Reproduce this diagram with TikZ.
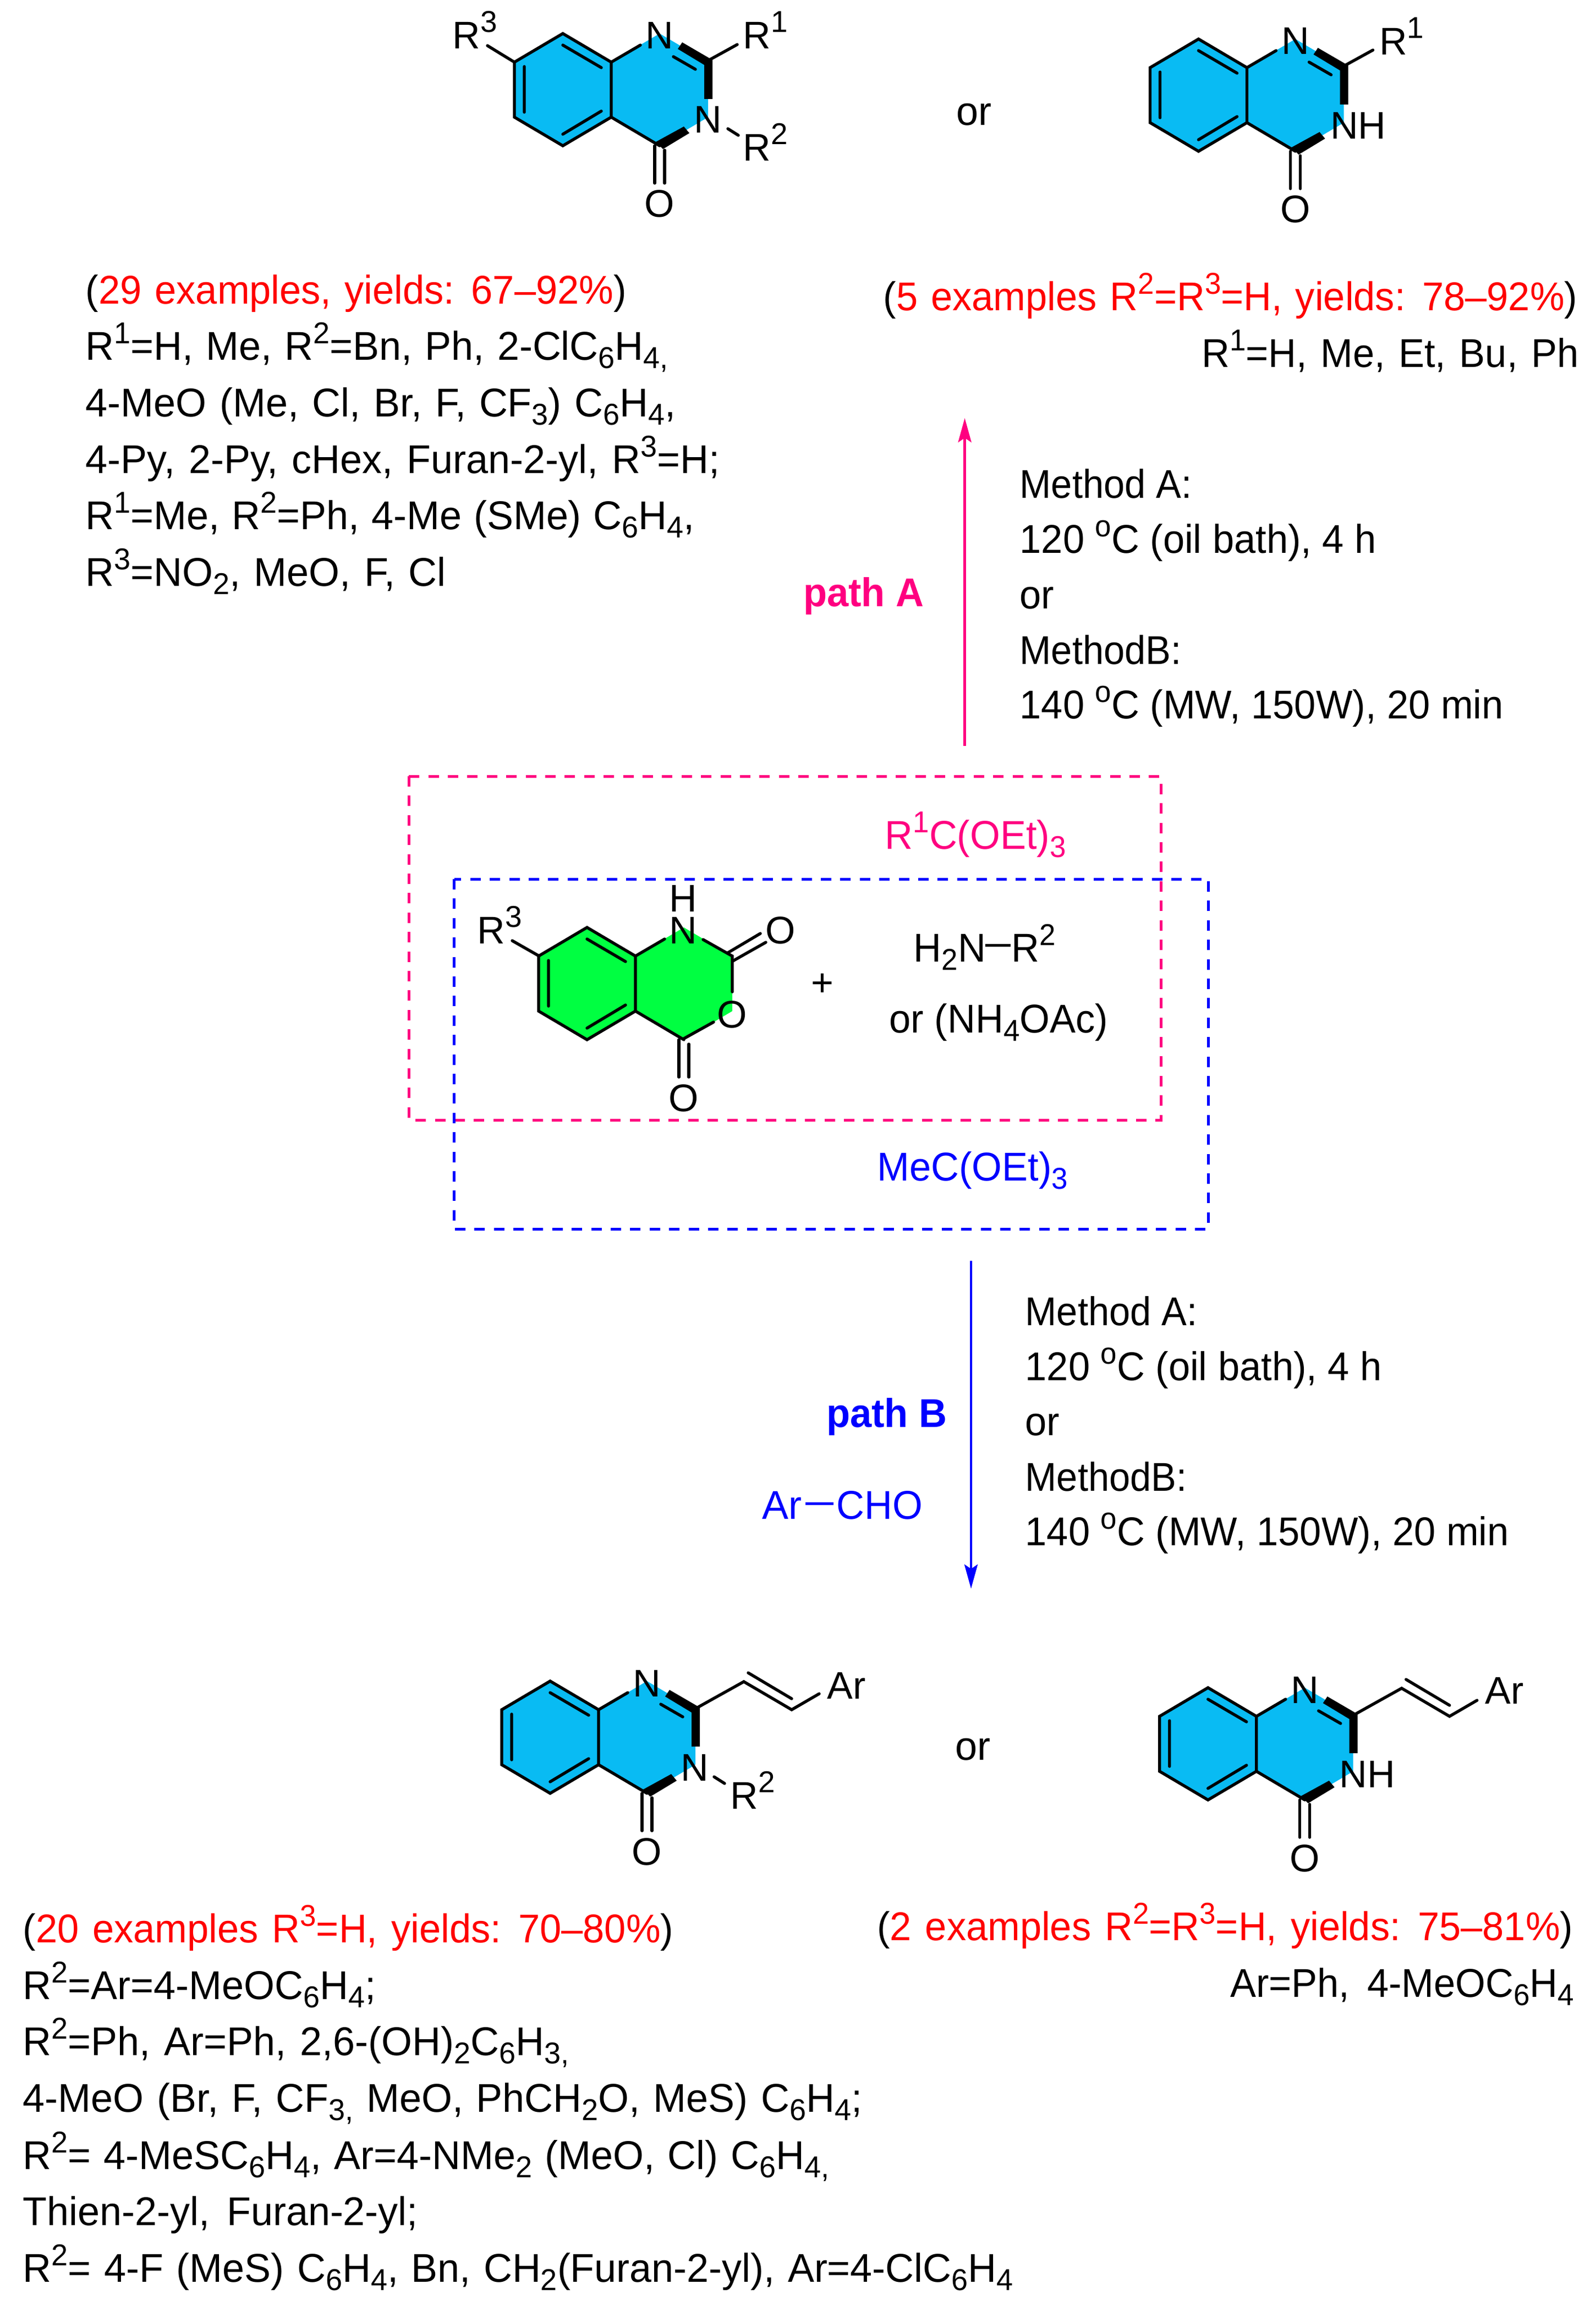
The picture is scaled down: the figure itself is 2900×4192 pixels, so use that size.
\documentclass[tikz,border=0pt]{standalone}
\usepackage{fontspec}
\setmainfont{Liberation Sans}
\newfontfamily\midf[FakeStretch=0.985]{Liberation Sans}
\newfontfamily\narrowf[FakeStretch=0.965]{Liberation Sans}
\newfontfamily\tightf[FakeStretch=0.94]{Liberation Sans}
\usetikzlibrary{arrows.meta}
\definecolor{pinkc}{RGB}{255,0,128}
\definecolor{cyanc}{RGB}{9,187,243}
\definecolor{greenc}{RGB}{0,255,65}
\newcommand{\lsb}[1]{\raisebox{-3.75pt}{\fontsize{13.7}{15}\selectfont #1}}
\newcommand{\lsp}[1]{\raisebox{7.5pt}{\fontsize{13.7}{15}\selectfont #1}}
\newcommand{\rd}[1]{\textcolor{red}{#1}}
\tikzset{
  bond/.style={line width=1.35pt,line cap=round,line join=miter,black},
  txt/.style={inner sep=0pt,anchor=base west,font=\midf\fontsize{18.25}{20}\selectfont},
  txtr/.style={inner sep=0pt,anchor=base east,font=\midf\fontsize{18.25}{20}\selectfont},
  nar/.style={font=\narrowf\fontsize{18.25}{20}\selectfont},
  tig/.style={font=\tightf\fontsize{18.25}{20}\selectfont},
  wsp/.style={execute at begin node={\spaceskip=#1pt\relax}},
  lab/.style={inner sep=0pt,anchor=base,font=\fontsize{17.5}{20}\selectfont},
  labw/.style={inner sep=0pt,anchor=base west,font=\fontsize{17.5}{20}\selectfont},
  pinkbox/.style={draw=pinkc,line width=1.25pt,dash pattern=on 4.75pt off 4.1pt},
  bluebox/.style={draw=blue,line width=1.25pt,dash pattern=on 4.75pt off 4.1pt},
  rxn/.style={line width=1.15pt,-{Stealth[length=11pt,width=6pt,inset=2pt]}}
}
% fused core: shared by all four structures, origin at the upper ring-fusion atom
\newcommand{\core}[2]{%
  \fill[#2] (0,0)--(-88,-52)--(-176,0)--(-176,100)--(-88,152)--(0,100)--(88,152)--(176,100)--(176,0)--(88,-52)--cycle;
  \draw[bond] (0,0)--(-88,-52)--(-176,0)--(-176,100)--(-88,152)--(0,100)--cycle;
  \draw[bond] (-158,8)--(-158,91) (-88,-31)--(-18,10) (-18,89)--(-88,131);
  \draw[bond] (0,100)--(88,152) (0,0)--(53,-31);
  \draw[bond] (79,152)--(79,220) (97,160)--(97,220);
  \node[lab] (#1O) at (88,282) {O};
}
% bold bonds of the quinazolinone products
\newcommand{\hetero}[1]{%
  \fill[black] (129,-36)--(184,-4)--(184,67)--(169,67)--(169,5)--(121,-24)--cycle;
  \fill[black] (81,145)--(132,117)--(142,129)--(94,158)--cycle;
  \draw[bond] (113,-10)--(153,13);
  \node[lab] (#1N) at (88,-24) {N};
}
\begin{document}
\begin{tikzpicture}[x=0.25pt,y=-0.25pt]
\useasboundingbox (0,0) rectangle (2900,4192);
\fill[white] (0,0) rectangle (2900,4192);

% product 1
\begin{scope}[shift={(1111,113)}]
  \core{a}{cyanc}\hetero{a}
  \draw[bond] (180,-5)--(229,-32) (212,121)--(231,133) (-225,-30)--(-176,0);
  \node[lab] (aN3) at (176,129) {N};
  \node[labw] (aR1) at (239,-24) {R\lsp{1}};
  \node[labw] (aR2) at (239,180) {R\lsp{2}};
  \node[labw] (aR3) at (-289,-24) {R\lsp{3}};
\end{scope}
% product 2
\begin{scope}[shift={(2266.5,123)}]
  \core{b}{cyanc}\hetero{b}
  \draw[bond] (180,-5)--(229,-32);
  \node[labw] (bNH) at (151,130) {NH};
  \node[labw] (bR1) at (240,-23) {R\lsp{1}};
\end{scope}
% product 3
\begin{scope}[shift={(1088,3108)}]
  \core{c}{cyanc}\hetero{c}
  \draw[bond] (178,-3)--(264,-51)--(351,0)--(401,-29) (272,-67)--(351,-20) (210,122)--(229,134);
  \node[lab] (cN3) at (175,129) {N};
  \node[labw] (cAr) at (415,-20) {Ar};
  \node[labw] (cR2) at (239,180) {R\lsp{2}};
\end{scope}
% product 4
\begin{scope}[shift={(2283.7,3120)}]
  \core{d}{cyanc}\hetero{d}
  \draw[bond] (178,-3)--(264,-51)--(351,0)--(401,-29) (272,-67)--(351,-20);
  \node[labw] (dNH) at (150,129) {NH};
  \node[labw] (dAr) at (415,-23) {Ar};
\end{scope}
% isatoic anhydride
\begin{scope}[shift={(1155,1738)}]
  \core{e}{greenc}
  \draw[bond] (123,-30)--(176,0)--(176,65) (88,150)--(142,120);
  \draw[bond] (168,-6)--(227,-41) (177,9)--(237,-25);
  \draw[bond] (-224,-28)--(-175,0);
  \node[lab] (eN) at (87,-23) {N};
  \node[lab] (eH) at (87,-81) {H};
  \node[lab] (eO2) at (264,-23) {O};
  \node[lab] (eO3) at (176,130) {O};
  \node[labw] (eR3) at (-288,-23) {R\lsp{3}};
\end{scope}

% dashed boxes
\draw[pinkbox] (743,1411) rectangle (2110,2036);
\draw[bluebox] (825.5,1598) rectangle (2196,2234);

% reagents
\node[lab] (plus) at (1495,1810) {+};
\node[txt,nar,text=pinkc] (rone) at (1608,1543) {R\lsp{1}C(OEt)\lsb{3}};
\node[txt,nar,text=blue] (mec) at (1594,2146) {MeC(OEt)\lsb{3}};
\node[txt,nar] (h2n) at (1660,1748) {H\lsb{2}N};
\node[txt,nar] (rtwo) at (1838,1748) {R\lsp{2}};
\coordinate (hb1) at (1791,1718);
\coordinate (hb2) at (1837,1718);
\draw[line width=1.25pt] (hb1)--(hb2);
\node[txt,nar] (nh4) at (1616,1877) {or (NH\lsb{4}OAc)};

% arrows
\coordinate (aS) at (1753.6,1356);
\coordinate (aE) at (1753.6,760);
\draw[rxn,pinkc] (aS)--(aE);
\coordinate (bS) at (1765,2292);
\coordinate (bE) at (1765,2888);
\draw[rxn,blue] (bS)--(bE);

\node[txtr,text=pinkc,font=\narrowf\fontsize{18.25}{20}\selectfont\bfseries] (pA) at (1680,1103) {path A};
\node[txtr,text=blue,font=\narrowf\fontsize{18.25}{20}\selectfont\bfseries] (pB) at (1722,2594) {path B};
\node[txt,text=blue] (ar) at (1385,2761) {Ar};
\node[txt,nar,text=blue] (cho) at (1520,2761) {CHO};
\coordinate (ab1) at (1464,2733);
\coordinate (ab2) at (1515,2733);
\draw[line width=1.25pt,blue] (ab1)--(ab2);

% conditions A
\node[txt,tig] (m1) at (1853,906) {Method A:};
\node[txt,nar] (m2) at (1853,1006) {120 \lsp{o}C (oil bath), 4 h};
\node[txt,nar] (m3) at (1853,1106) {or};
\node[txt,tig] (m4) at (1853,1207) {MethodB:};
\node[txt,nar] (m5) at (1853,1306) {140 \lsp{o}C (MW, 150W), 20 min};
% conditions B
\node[txt,tig] (n1) at (1863,2409) {Method A:};
\node[txt,nar] (n2) at (1863,2509) {120 \lsp{o}C (oil bath), 4 h};
\node[txt,nar] (n3) at (1863,2609) {or};
\node[txt,tig] (n4) at (1863,2710) {MethodB:};
\node[txt,nar] (n5) at (1863,2809) {140 \lsp{o}C (MW, 150W), 20 min};

\node[txt] (or1) at (1738,228) {or};
\node[txt] (or2) at (1736,3199) {or};

% upper left block
\node[txt,nar,wsp=6] (t1) at (155,553) {(\rd{29 examples, yields: 67–92\%})};
\node[txt,wsp=5.8] (t2) at (155,655) {R\lsp{1}=H, Me, R\lsp{2}=Bn, Ph, 2-ClC\lsb{6}H\lsb{4,}};
\node[txt,wsp=6] (t3) at (155,758) {4-MeO (Me, Cl, Br, F, CF\lsb{3}) C\lsb{6}H\lsb{4},};
\node[txt,wsp=6.25] (t4) at (155,861) {4-Py, 2-Py, cHex, Furan-2-yl, R\lsp{3}=H;};
\node[txt,wsp=5.5] (t5) at (155,963) {R\lsp{1}=Me, R\lsp{2}=Ph, 4-Me (SMe) C\lsb{6}H\lsb{4},};
\node[txt,wsp=6.1] (t6) at (155,1066) {R\lsp{3}=NO\lsb{2}, MeO, F, Cl};
% upper right block
\node[txtr,nar,wsp=6] (u1) at (2868,565) {(\rd{5 examples R\lsp{2}=R\lsp{3}=H, yields: 78–92\%})};
\node[txtr,nar,wsp=6.1] (u2) at (2870,668) {R\lsp{1}=H, Me, Et, Bu, Ph};
% lower left block
\node[txt,nar,wsp=6.2] (v1) at (41,3531) {(\rd{20 examples R\lsp{3}=H, yields: 70–80\%})};
\node[txt] (v2) at (41,3634) {R\lsp{2}=Ar=4-MeOC\lsb{6}H\lsb{4};};
\node[txt,wsp=6.3] (v3) at (41,3736) {R\lsp{2}=Ph, Ar=Ph, 2,6-(OH)\lsb{2}C\lsb{6}H\lsb{3,}};
\node[txt,wsp=6] (v4) at (41,3839) {4-MeO (Br, F, CF\lsb{3,} MeO, PhCH\lsb{2}O, MeS) C\lsb{6}H\lsb{4};};
\node[txt,wsp=5.8] (v5) at (41,3943) {R\lsp{2}= 4-MeSC\lsb{6}H\lsb{4}, Ar=4-NMe\lsb{2} (MeO, Cl) C\lsb{6}H\lsb{4,}};
\node[txt,wsp=7.7] (v6) at (41,4045) {Thien-2-yl, Furan-2-yl;};
\node[txt,wsp=5.9] (v7) at (41,4148) {R\lsp{2}= 4-F (MeS) C\lsb{6}H\lsb{4}, Bn, CH\lsb{2}(Furan-2-yl), Ar=4-ClC\lsb{6}H\lsb{4}};
% lower right block
\node[txtr,nar,wsp=6.2] (w1) at (2860,3527) {(\rd{2 examples R\lsp{2}=R\lsp{3}=H, yields: 75–81\%})};
\node[txtr,nar,wsp=8] (w2) at (2862,3630) {Ar=Ph, 4-MeOC\lsb{6}H\lsb{4}};
\end{tikzpicture}
\end{document}
